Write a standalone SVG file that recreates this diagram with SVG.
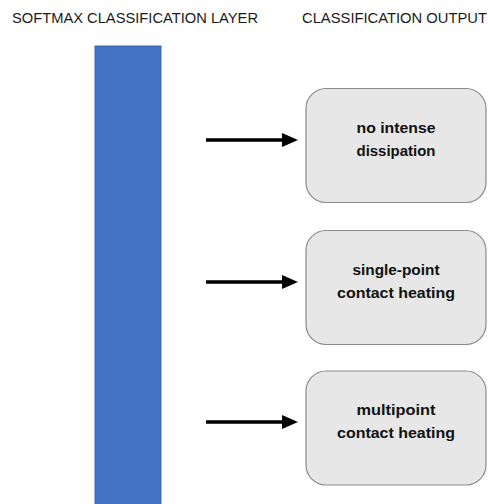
<svg xmlns="http://www.w3.org/2000/svg" width="488" height="504" viewBox="0 0 488 504">
  <style>
    .hdr { font-family: "Liberation Sans", Arial, sans-serif; font-size: 14px; fill: #1a1a1a; }
    .lbl { font-family: "Liberation Sans", Arial, sans-serif; font-size: 15px; font-weight: bold; fill: #111; text-anchor: middle; }
    .box { fill: #e7e7e7; stroke: #8a8a8a; stroke-width: 1.2; }
    .conn { stroke: #000; stroke-width: 3.5; fill: none; }
    .head { fill: #000; }
  </style>
  <rect width="488" height="504" fill="#fff"/>
  <g id="headers">
    <text class="hdr" x="12" y="22.5" textLength="246" lengthAdjust="spacingAndGlyphs">SOFTMAX CLASSIFICATION LAYER</text>
    <text class="hdr" x="302" y="22.5" textLength="185" lengthAdjust="spacingAndGlyphs">CLASSIFICATION OUTPUT</text>
  </g>
  <g id="softmax-layer">
    <rect x="95" y="46" width="66" height="460" fill="#4472c4" stroke="#3a64ae" stroke-width="1"/>
  </g>
  <g id="connectors">
    <line class="conn" x1="206" y1="140" x2="284" y2="140"/>
    <polygon class="head" points="282,133 298,140 282,147"/>
    <line class="conn" x1="206" y1="282" x2="284" y2="282"/>
    <polygon class="head" points="282,275 298,282 282,289"/>
    <line class="conn" x1="206" y1="422" x2="284" y2="422"/>
    <polygon class="head" points="282,415 298,422 282,429"/>
  </g>
  <g id="out-no-intense">
    <rect class="box" x="306" y="88.5" width="180" height="114" rx="20" ry="20"/>
    <text class="lbl" x="396" y="132.5" textLength="79" lengthAdjust="spacingAndGlyphs">no intense</text>
    <text class="lbl" x="396" y="155.5" textLength="79" lengthAdjust="spacingAndGlyphs">dissipation</text>
  </g>
  <g id="out-single-point">
    <rect class="box" x="306" y="230.5" width="180" height="114" rx="20" ry="20"/>
    <text class="lbl" x="396" y="275" textLength="87" lengthAdjust="spacingAndGlyphs">single-point</text>
    <text class="lbl" x="396" y="298" textLength="118" lengthAdjust="spacingAndGlyphs">contact heating</text>
  </g>
  <g id="out-multipoint">
    <rect class="box" x="306" y="371" width="180" height="114" rx="20" ry="20"/>
    <text class="lbl" x="396" y="415" textLength="79" lengthAdjust="spacingAndGlyphs">multipoint</text>
    <text class="lbl" x="396" y="437.5" textLength="118" lengthAdjust="spacingAndGlyphs">contact heating</text>
  </g>
</svg>
